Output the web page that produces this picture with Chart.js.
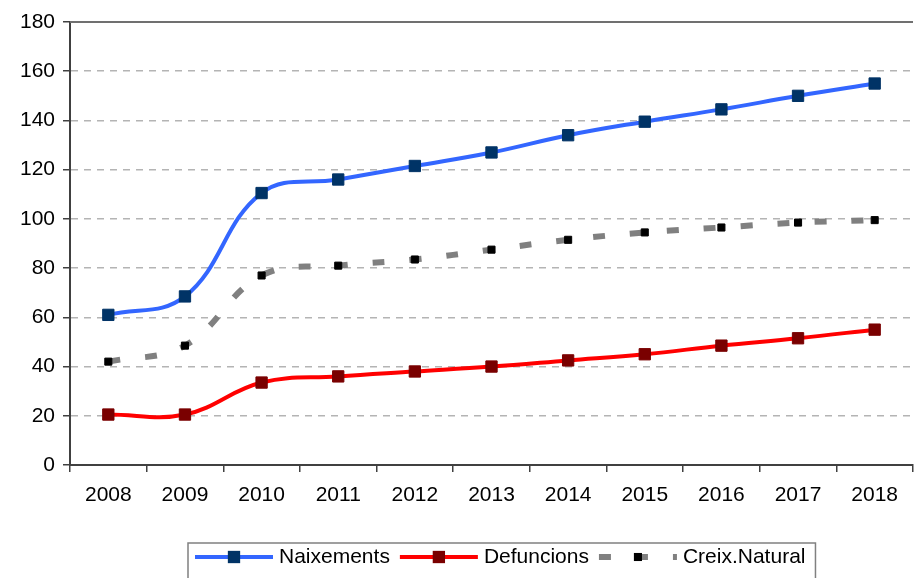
<!DOCTYPE html>
<html>
<head>
<meta charset="utf-8">
<script src="https://cdn.jsdelivr.net/npm/chart.js@4.4.0/dist/chart.umd.min.js"></script>
<style>
  html, body { margin: 0; padding: 0; background: #fff; overflow: hidden; }
  #wrap { position: relative; width: 922px; height: 578px; }
</style>
</head>
<body>
<div id="wrap"><canvas id="lineChart"></canvas></div>
<script>
var years = ['2008', '2009', '2010', '2011', '2012', '2013', '2014', '2015', '2016', '2017', '2018'];
var naixements = [61, 68.5, 110.5, 116, 121.5, 127, 134, 139.5, 144.5, 150, 155];
var defuncions = [20.5, 20.5, 33.5, 36, 38, 40, 42.5, 45, 48.5, 51.5, 55];
var creixNatural = [42, 48.5, 77, 81, 83.5, 87.5, 91.5, 94.5, 96.5, 98.5, 99.5];
var yMin = 0, yMax = 180, yStep = 20;

var FONT = '"Liberation Sans", Arial, sans-serif';

// solid line on top of the plot area
var topLine = {
  id: 'topLine',
  beforeDatasetsDraw: function(chart) {
    var a = chart.chartArea, ctx = chart.ctx;
    ctx.save();
    ctx.strokeStyle = '#707070';
    ctx.lineWidth = 2;
    ctx.beginPath();
    ctx.moveTo(a.left, a.top);
    ctx.lineTo(a.right, a.top);
    ctx.stroke();
    ctx.restore();
  }
};

// boxed legend at the bottom, built from the datasets
var boxLegend = {
  id: 'boxLegend',
  afterDraw: function(chart) {
    var ctx = chart.ctx;
    var x = 195, y = 557, left = 188, top = 543;
    ctx.save();
    ctx.font = '21px ' + FONT;
    ctx.textBaseline = 'middle';
    chart.data.datasets.forEach(function(ds) {
      ctx.beginPath();
      ctx.setLineDash(ds.borderDash || []);
      ctx.lineWidth = ds.borderWidth;
      ctx.strokeStyle = ds.borderColor;
      ctx.moveTo(x, y);
      ctx.lineTo(x + 78, y);
      ctx.stroke();
      ctx.setLineDash([]);
      var s = ds.pointRadius * Math.SQRT1_2 + 0.5;
      ctx.fillStyle = ds.pointBackgroundColor;
      ctx.fillRect(x + 39 - s, y - s, 2 * s, 2 * s);
      ctx.fillStyle = '#000';
      ctx.fillText(ds.label, x + 84, y);
      x += 84 + ctx.measureText(ds.label).width + 10;
    });
    ctx.strokeStyle = '#808080';
    ctx.lineWidth = 1.5;
    ctx.strokeRect(left, top, x - left, 50);
    ctx.restore();
  }
};

var ctx = document.getElementById('lineChart');

var lineGraph = new Chart(ctx, {
  type: 'line',
  data: {
    labels: years,
    datasets: [
      {
        label: 'Naixements',
        data: naixements,
        borderColor: '#3366ff',
        borderWidth: 4,
        tension: 0.4,
        pointStyle: 'rect',
        pointRadius: 8,
        pointBorderWidth: 1,
        pointBackgroundColor: '#003366',
        pointBorderColor: '#003366'
      },
      {
        label: 'Defuncions',
        data: defuncions,
        borderColor: '#ff0000',
        borderWidth: 4,
        tension: 0.4,
        pointStyle: 'rect',
        pointRadius: 8,
        pointBorderWidth: 1,
        pointBackgroundColor: '#7a0000',
        pointBorderColor: '#7a0000'
      },
      {
        label: 'Creix.Natural',
        data: creixNatural,
        borderColor: '#808080',
        borderWidth: 6,
        borderDash: [12, 25],
        borderCapStyle: 'butt',
        tension: 0.4,
        pointStyle: 'rect',
        pointRadius: 5,
        pointBorderWidth: 1,
        pointBackgroundColor: '#000000',
        pointBorderColor: '#000000'
      }
    ]
  },
  options: {
    responsive: true,
    maintainAspectRatio: false,
    animation: false,
    layout: { padding: { top: 22, left: 0, right: 1, bottom: 63 } },
    plugins: {
      legend: { display: false },
      tooltip: { enabled: false }
    },
    scales: {
      x: {
        offset: true,
        grid: {
          offset: true,
          drawOnChartArea: false,
          drawTicks: true,
          tickLength: 7,
          color: '#404040',
          lineWidth: 1.5
        },
        border: { display: true, color: '#404040', width: 2 },
        ticks: {
          color: '#000',
          font: { size: 21, family: FONT },
          padding: 11,
          maxRotation: 0,
          autoSkip: false
        },
        afterFit: function(scale) { scale.height = 50; }
      },
      y: {
        min: yMin,
        max: yMax,
        grid: {
          color: '#b4b4b4',
          lineWidth: 1.5,
          drawTicks: true,
          tickLength: 7,
          tickColor: '#404040',
          tickWidth: 1.5
        },
        border: { display: true, color: '#404040', width: 2, dash: [7, 6] },
        ticks: {
          stepSize: yStep,
          color: '#000',
          font: { size: 21, family: FONT },
          padding: 8
        },
        afterFit: function(scale) { scale.width = 70; }
      }
    }
  },
  plugins: [topLine, boxLegend]
});
</script>
</body>
</html>
